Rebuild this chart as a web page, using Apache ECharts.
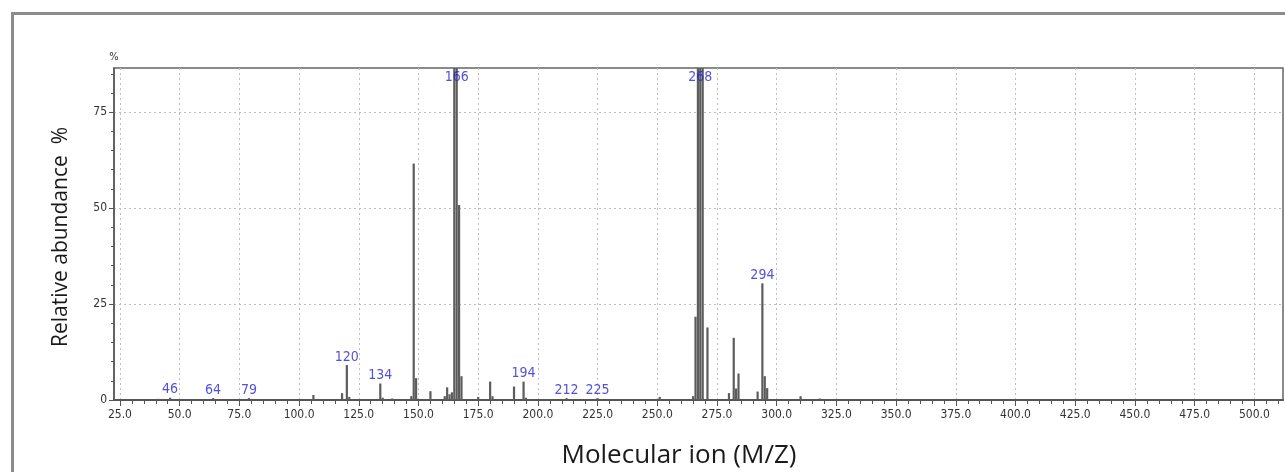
<!DOCTYPE html>
<html>
<head>
<meta charset="utf-8">
<script src="https://cdn.jsdelivr.net/npm/echarts@6/dist/echarts.min.js"></script>
<style>
  html, body { margin: 0; padding: 0; background: #ffffff; }
  #chart { width: 1285px; height: 472px; }
</style>
</head>
<body>
<div id="chart"></div>
<script>
// ---- data ----
const mzValues = [41, 46, 64, 79, 106, 118, 120, 121, 134, 135, 139, 147, 148, 149, 155, 161, 162, 163, 164,
  165, 166, 167, 168, 175, 180, 181, 190, 194, 195, 212, 225, 251, 265, 266, 267, 268, 269, 271,
  280, 282, 283, 284, 292, 294, 295, 296, 310, 318];
const abundance = [0.3, 0.6, 0.5, 0.5, 1.3, 1.8, 9.1, 0.8, 4.3, 0.6, 0.4, 1.0, 61.6, 5.7, 2.3, 1.0, 3.3, 1.5, 2.0,
  100, 100, 50.8, 6.2, 0.8, 4.8, 1.0, 3.5, 4.8, 0.6, 0.5, 0.5, 0.8, 1.0, 21.7, 95, 100, 92, 18.9,
  1.8, 16.2, 3.0, 6.9, 2.2, 30.4, 6.2, 3.1, 1.0, 0.4];
const labelledPeaks = [46, 64, 79, 120, 134, 166, 194, 212, 225, 268, 294];
const xTickValues = [25, 50, 75, 100, 125, 150, 175, 200, 225, 250, 275, 300, 325, 350, 375, 400, 425, 450, 475, 500];
const yTickValues = [0, 25, 50, 75];

const X_MIN = 22.5, X_MAX = 512, Y_MAX = 86.5;

const xMinorTicks = [];
for (let v = 25; v <= 510; v += 5) xMinorTicks.push(v);
const yMinorTicks = [];
for (let v = 5; v <= 85; v += 5) yMinorTicks.push(v);

const barData = mzValues.map((m, i) => [m, abundance[i]]);
const labelData = labelledPeaks.map(m => {
  const v = abundance[mzValues.indexOf(m)];
  return { name: String(m), value: [m, Math.min(v, Y_MAX - 4.5)] };
});

const narrow = "'Liberation Sans Narrow', 'DejaVu Sans Condensed', 'Arial Narrow', sans-serif";
const axisColor = '#555';

const chart = echarts.init(document.getElementById('chart'), null, { renderer: 'canvas' });
chart.setOption({
  backgroundColor: '#ffffff',
  animation: false,
  grid: {
    left: 114, right: 2, top: 68, bottom: 72,
    show: true, borderColor: '#666', borderWidth: 1.5, backgroundColor: '#ffffff'
  },
  xAxis: [
    {
      type: 'value', min: X_MIN, max: X_MAX, position: 'bottom',
      axisLine: { show: true, onZero: false, lineStyle: { color: axisColor, width: 2 } },
      axisTick: { show: true, customValues: xTickValues, length: 6, lineStyle: { color: axisColor, width: 1 } },
      axisLabel: {
        customValues: xTickValues, formatter: v => Number(v).toFixed(1),
        fontFamily: narrow, fontSize: 12, color: '#333', margin: 9
      },
      splitLine: { show: true, lineStyle: { color: '#bdbdbd', type: [2, 3], width: 1 } }
    },
    {
      type: 'value', min: X_MIN, max: X_MAX, position: 'bottom', offset: 0,
      axisLine: { show: false },
      axisTick: { show: true, customValues: xMinorTicks, length: 4, lineStyle: { color: axisColor, width: 1 } },
      axisLabel: { show: false },
      splitLine: { show: false }
    }
  ],
  yAxis: [
    {
      type: 'value', min: 0, max: Y_MAX, position: 'left',
      name: '%', nameLocation: 'end', nameGap: 5,
      nameTextStyle: { fontFamily: narrow, fontSize: 11, color: '#333' },
      axisLine: { show: true, onZero: false, lineStyle: { color: axisColor, width: 1.5 } },
      axisTick: { show: true, customValues: yTickValues, length: 5, lineStyle: { color: axisColor } },
      axisLabel: { customValues: yTickValues, fontFamily: narrow, fontSize: 12, color: '#333', margin: 7 },
      splitLine: { show: true, lineStyle: { color: '#bdbdbd', type: [2, 3], width: 1 } }
    },
    {
      type: 'value', min: 0, max: Y_MAX, position: 'left', offset: 0,
      axisLine: { show: false },
      axisTick: { show: true, customValues: yMinorTicks, length: 3, lineStyle: { color: axisColor } },
      axisLabel: { show: false },
      splitLine: { show: false }
    }
  ],
  series: [
    {
      type: 'bar', xAxisIndex: 0, yAxisIndex: 0, data: barData,
      barWidth: 2.2, clip: true,
      itemStyle: { color: '#5c5c5c' }
    },
    {
      type: 'scatter', xAxisIndex: 0, yAxisIndex: 0, data: labelData,
      symbolSize: 0, silent: true,
      label: {
        show: true, position: 'top', distance: 1,
        formatter: p => p.name,
        fontFamily: narrow, fontSize: 14, color: '#2626d6'
      }
    }
  ],
  graphic: [
    {
      type: 'rect', left: 10, top: 11, silent: true, z: -1,
      shape: { width: 1290, height: 480 },
      style: { fill: 'none', stroke: '#8c8c8c', lineWidth: 3 }
    },
    {
      type: 'text', x: 61, y: 237, rotation: Math.PI / 2, silent: true,
      style: {
        text: 'Relative abundance  %', fill: '#1a1a1a',
        font: "21px 'Open Sans', 'Noto Sans', sans-serif",
        align: 'center', verticalAlign: 'middle'
      }
    },
    {
      type: 'text', x: 679, y: 456, silent: true,
      style: {
        text: 'Molecular ion (M/Z)', fill: '#1a1a1a',
        font: "26px 'Open Sans', 'Noto Sans', sans-serif",
        align: 'center', verticalAlign: 'middle'
      }
    }
  ]
});
</script>
</body>
</html>
